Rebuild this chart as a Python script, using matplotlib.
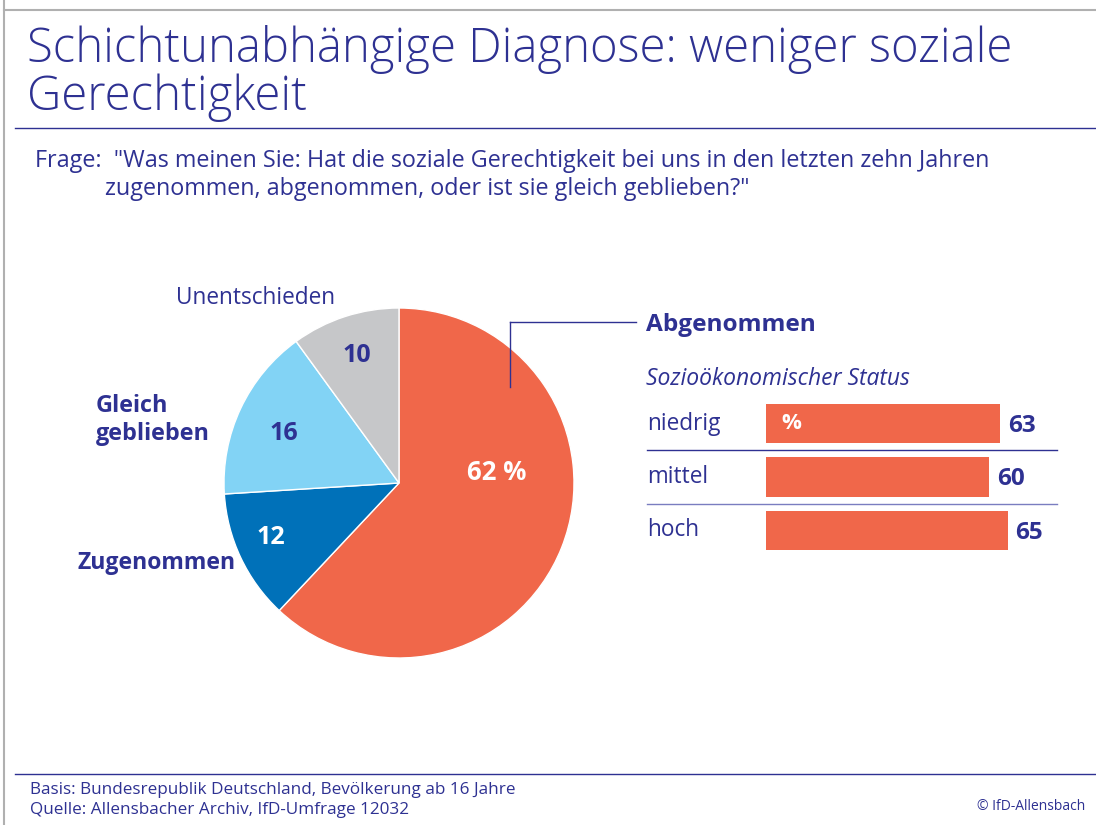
import matplotlib
matplotlib.use("Agg")
import matplotlib.pyplot as plt
from matplotlib.lines import Line2D

# data
pie_labels = ["Abgenommen", "Zugenommen", "Gleich geblieben", "Unentschieden"]
pie_values = [62, 12, 16, 10]
pie_colors = ["#F0674A", "#0071B9", "#82D3F5", "#C6C7C9"]

status_labels = ["niedrig", "mittel", "hoch"]
status_values = [63, 60, 65]

NAVY = "#2E3192"
RED = "#F0674A"
W, H = 1096, 825

plt.rcParams["font.family"] = ["Open Sans", "DejaVu Sans"]

fig = plt.figure(figsize=(W / 100, H / 100), dpi=100)


def px(x, y):
    return x / W, 1 - y / H


def text(x, y, s, **kw):
    kw.setdefault("color", NAVY)
    kw.setdefault("va", "center")
    fig.text(*px(x, y), s, **kw)


def hline(x0, x1, y, **kw):
    (a, b), (c, d) = px(x0, y), px(x1, y)
    fig.add_artist(Line2D([a, c], [b, d], transform=fig.transFigure, **kw))


# frame and rules
fig.add_artist(Line2D([px(4, 0)[0], px(4, 825)[0]], [1, 0], transform=fig.transFigure, color="#B0B0B0", lw=1.5))
hline(4, 1096, 10, color="#B0B0B0", lw=1.5)
hline(15, 1096, 128, color=NAVY, lw=1)
hline(15, 1096, 774, color=NAVY, lw=1)

# title + question
text(27, 49, "Schichtunabhängige Diagnose: weniger soziale", fontsize=34, fontweight="light")
text(27, 98, "Gerechtigkeit", fontsize=34, fontweight="light")
text(35, 161, "Frage:  \"Was meinen Sie: Hat die soziale Gerechtigkeit bei uns in den letzten zehn Jahren", fontsize=16.8)
text(105, 189, "zugenommen, abgenommen, oder ist sie gleich geblieben?\"", fontsize=16.8)

# pie
cx, cy, r = 399, 483, 175
ax = fig.add_axes([(cx - r) / W, (H - cy - r) / H, 2 * r / W, 2 * r / H])
ax.pie(pie_values, colors=pie_colors, startangle=90, counterclock=False,
       wedgeprops=dict(edgecolor="white", linewidth=1))
ax.set_xlim(-1, 1)
ax.set_ylim(-1, 1)
ax.set_aspect("auto")
ax.axis("off")

text(497, 472, f"{pie_values[0]} %", fontsize=18.5, fontweight="bold", color="white", ha="center")
text(271, 538, f"{pie_values[1]}", fontsize=18, fontweight="bold", color="white", ha="center")
text(284, 433, f"{pie_values[2]}", fontsize=18, fontweight="bold", ha="center")
text(357, 356, f"{pie_values[3]}", fontsize=18, fontweight="bold", ha="center")

text(176, 298, pie_labels[3], fontsize=16.3)
text(96, 406, "Gleich", fontsize=16.8, fontweight="bold")
text(96, 434, "geblieben", fontsize=16.8, fontweight="bold")
text(78, 563, pie_labels[1], fontsize=16.6, fontweight="bold")

# leader line
fig.add_artist(Line2D([px(510, 0)[0]] * 2, [px(0, 387)[1], px(0, 322)[1]], transform=fig.transFigure, color=NAVY, lw=1))
hline(510, 636, 322, color=NAVY, lw=1)

text(646, 325, pie_labels[0], fontsize=17.6, fontweight="bold")
text(646, 379, "Sozioökonomischer Status", fontsize=16.5, style="italic")

# bars
scale = 3.72  # px per percent
step = 53.5
top = 423.5 - 0.6 * step
bh = 3.2 * step
x0 = 766
bx = fig.add_axes([x0 / W, (H - top - bh) / H, (W - x0) / W, bh / H])
ypos = list(range(len(status_values)))
bx.barh(ypos, status_values, height=0.73, color=RED)
bx.set_xlim(0, (W - x0) / scale)
bx.set_ylim(2.6, -0.6)
bx.axis("off")
left = (647 - x0) / scale
right = (1057 - x0) / scale
sep_colors = [NAVY, "#7A7DC0"]
for i, (lab, v) in enumerate(zip(status_labels, status_values)):
    bx.text(left, i, lab, color=NAVY, fontsize=16.3, va="center", clip_on=False)
    bx.text(v + 2, i + 0.04, str(v), color=NAVY, fontsize=17.5, fontweight="bold", va="center", clip_on=False)
    if i < len(status_values) - 1:
        bx.plot([left, right], [i + 0.5, i + 0.5], color=sep_colors[i], lw=1, clip_on=False)
bx.text(4, 0, "%", color="white", fontsize=16, fontweight="bold", va="center")

# footer
text(30, 790, "Basis: Bundesrepublik Deutschland, Bevölkerung ab 16 Jahre", fontsize=12.3)
text(30, 810, "Quelle: Allensbacher Archiv, IfD-Umfrage 12032", fontsize=12.3)
text(1085, 806, "© IfD-Allensbach", fontsize=10, ha="right")

fig.savefig("out.png", dpi=100)
